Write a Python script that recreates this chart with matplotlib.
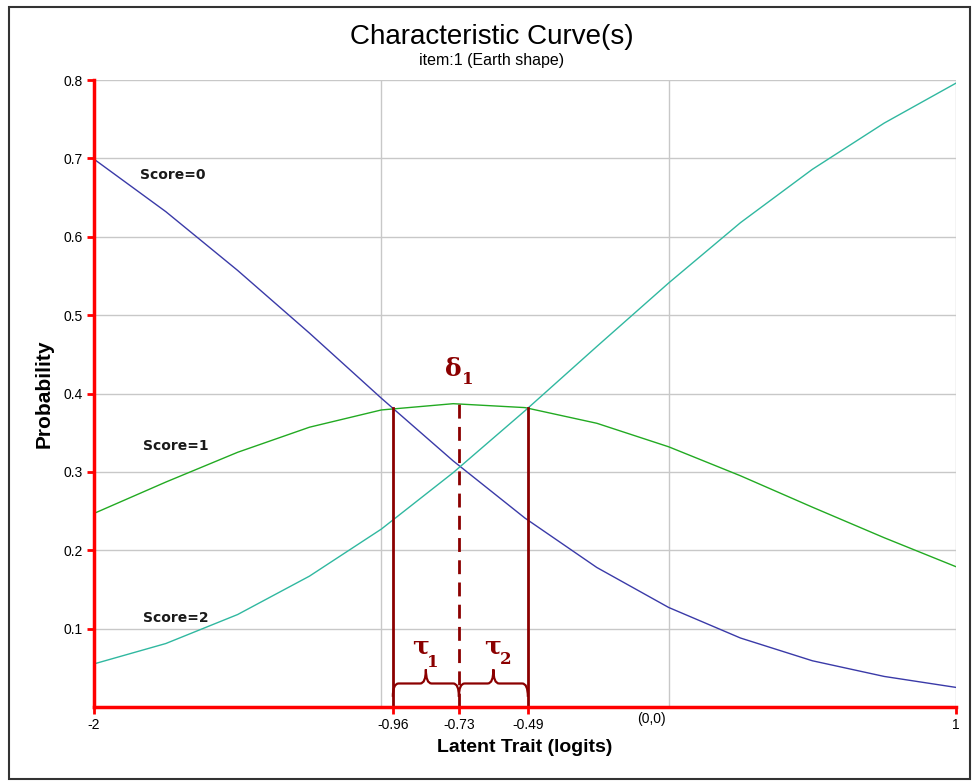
import numpy as np
import matplotlib.pyplot as plt
from matplotlib.path import Path
from matplotlib.patches import PathPatch, Rectangle

# latent trait grid (logits) and probabilities
theta = [-2.0, -1.75, -1.5, -1.25, -1.0, -0.75, -0.5, -0.25, 0.0, 0.25, 0.5, 0.75, 1.0]
score0 = [0.699, 0.632, 0.557, 0.477, 0.394, 0.314, 0.241, 0.178, 0.127, 0.088, 0.059, 0.039, 0.025]
score1 = [0.247, 0.287, 0.325, 0.357, 0.379, 0.387, 0.382, 0.362, 0.332, 0.295, 0.255, 0.216, 0.179]
score2 = [0.055, 0.081, 0.118, 0.167, 0.227, 0.299, 0.378, 0.460, 0.541, 0.618, 0.686, 0.745, 0.796]

# thresholds / item location
tau1_x, delta_x, tau2_x = -0.96, -0.73, -0.49
tau1_p, delta_p, tau2_p = 0.382, 0.388, 0.381

xtick_pos = [-2, -0.96, -0.73, -0.49, 1]
xtick_lab = ['-2', '-0.96', '-0.73', '-0.49', '1']
ytick_pos = [0.1, 0.2, 0.3, 0.4, 0.5, 0.6, 0.7, 0.8]

RED = '#ff0000'
DARK = '#8b0000'
GRID = '#c8c8c8'

plt.rcParams['font.family'] = ['Liberation Sans', 'DejaVu Sans']

fig = plt.figure(figsize=(9.72, 7.81), dpi=100)
ax = fig.add_axes([94/972, 1-707/781, (956-94)/972, (707-80)/781])

# grid
for yv in ytick_pos:
    ax.axhline(yv, color=GRID, lw=1, zorder=0)
for xv in [-1, 0, 1]:
    ax.axvline(xv, color=GRID, lw=1, zorder=0)

ax.plot(theta, score0, color='#3a3aa8', lw=1)
ax.plot(theta, score1, color='#22aa22', lw=1)
ax.plot(theta, score2, color='#30b8a0', lw=1)

# threshold lines
ax.plot([tau1_x, tau1_x], [0, tau1_p], color=DARK, lw=2)
ax.plot([tau2_x, tau2_x], [0, tau2_p], color=DARK, lw=2)
ax.plot([delta_x, delta_x], [0, delta_p], color=DARK, lw=2, ls=(0, (5, 3)))

def brace(x0, x1, y_end=0.013, y_mid=0.030, y_tip=0.048, r=0.02):
    xm = (x0 + x1) / 2
    verts = [(x0, y_end), (x0, y_mid), (x0 + r, y_mid),
             (xm - r, y_mid), (xm, y_mid), (xm, y_tip),
             (xm, y_mid), (xm + r, y_mid),
             (x1 - r, y_mid), (x1, y_mid), (x1, y_end)]
    codes = [Path.MOVETO, Path.CURVE3, Path.CURVE3,
             Path.LINETO, Path.CURVE3, Path.CURVE3,
             Path.CURVE3, Path.CURVE3,
             Path.LINETO, Path.CURVE3, Path.CURVE3]
    ax.add_patch(PathPatch(Path(verts, codes), fc='none', ec=DARK, lw=1.6))

brace(tau1_x, delta_x)
brace(delta_x, tau2_x)

serif = dict(family='DejaVu Serif', fontweight='bold', color=DARK)
ax.text(-0.751, 0.431, 'δ', fontsize=18, ha='center', va='center', **serif)
ax.text(-0.698, 0.418, '1', fontsize=12, ha='center', va='center', **serif)
ax.text(-0.862, 0.078, 'τ', fontsize=18, ha='center', va='center', **serif)
ax.text(-0.822, 0.057, '1', fontsize=12, ha='center', va='center', **serif)
ax.text(-0.613, 0.078, 'τ', fontsize=18, ha='center', va='center', **serif)
ax.text(-0.566, 0.061, '2', fontsize=12, ha='center', va='center', **serif)

score_font = dict(family='DejaVu Sans', fontsize=10, fontweight='bold',
                  color='#1a1a1a', ha='left', va='center')
ax.text(-1.84, 0.679, 'Score=0', **score_font)
ax.text(-1.83, 0.333, 'Score=1', **score_font)
ax.text(-1.83, 0.1136, 'Score=2', **score_font)

ax.set_xlim(-2, 1)
ax.set_ylim(0, 0.8)
ax.set_xticks(xtick_pos)
ax.set_xticklabels(xtick_lab)
ax.set_yticks(ytick_pos)
ax.set_yticklabels([f'{v:.1f}' for v in ytick_pos])
ax.text(-0.06, -0.007, '(0,0)', fontsize=10, ha='center', va='top')
ax.tick_params(axis='both', colors=RED, labelcolor='black', labelsize=10,
               length=5, width=2, direction='out', pad=3)

for s in ['top', 'right']:
    ax.spines[s].set_visible(False)
for s in ['left', 'bottom']:
    ax.spines[s].set_color(RED)
    ax.spines[s].set_linewidth(2.5)

ax.set_xlabel('Latent Trait (logits)', fontsize=14, fontweight='bold', labelpad=5)
ax.set_ylabel('Probability', fontsize=15, fontweight='bold', labelpad=7)

fig.text(0.506, 0.953, 'Characteristic Curve(s)', fontsize=20, ha='center', va='center')
fig.text(0.506, 0.922, 'item:1 (Earth shape)', fontsize=11.5, ha='center', va='center')

fig.patches.append(Rectangle((9/972, 2/781), (970-9)/972, (774-2)/781,
                             transform=fig.transFigure, fill=False, ec='#333333', lw=1.5))

fig.savefig('out.png', dpi=100)
